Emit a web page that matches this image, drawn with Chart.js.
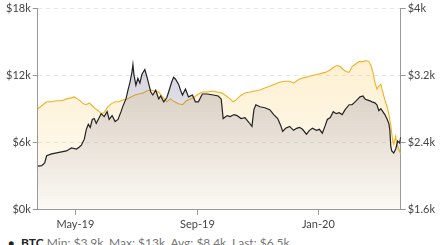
<!DOCTYPE html>
<html>
<head>
<meta charset="utf-8">
<script src="https://cdn.jsdelivr.net/npm/chart.js@4"></script>
<style>
    html, body { margin: 0; padding: 0; background: #fff; overflow: hidden; }
    #wrap { position: relative; width: 443px; height: 234px; }
    #legend {
        position: absolute; top: 235px; left: 8px; white-space: nowrap;
        font: 12px Lato, sans-serif; color: #777;
    }
    #legend .dot { color: #222; font-size: 10px; margin-right: 7px; }
    #legend b { color: #222; }
</style>
</head>
<body>
<div id="wrap"><canvas id="chart"></canvas></div>
<div id="legend"><span class="dot">●</span><b>BTC</b> Min: $3.9k, Max: $13k, Avg: $8.4k, Last: $6.5k</div>
<script>
// x values are days since 2019-03-24
const xTickDays = [38, 161, 283];
const xTickLabels = ['May-19', 'Sep-19', 'Jan-20'];

const btcDays = [0, 4, 7, 9, 14, 19, 24, 29, 34, 39, 42, 44, 47, 49, 51, 53, 55, 57, 59, 61,
    64, 67, 70, 72, 75, 78, 81, 84, 86, 89, 91, 93, 95, 96, 97, 99, 101, 103, 105, 108,
    110, 112, 114, 116, 119, 122, 124, 127, 130, 132, 135, 137, 139, 142, 144, 146, 149, 152, 156, 159,
    162, 166, 171, 177, 182, 185, 187, 191, 194, 198, 201, 205, 209, 213, 216, 218, 220, 224, 229, 234,
    238, 242, 245, 247, 250, 254, 258, 261, 264, 267, 271, 274, 277, 281, 284, 287, 290, 292, 295, 298,
    301, 304, 307, 310, 314, 317, 320, 323, 325, 328, 330, 332, 335, 337, 340, 342, 344, 346, 348, 350,
    352, 354, 355, 356, 357, 359, 361, 363, 365, 366];
const btcValues = [3900, 3950, 4200, 4830, 5000, 5090, 5180, 5270, 5530, 5440, 5620, 5790, 6320, 7200, 7640, 7370, 8080, 8165, 7730, 8080,
    8600, 8340, 8780, 8080, 8430, 7900, 8080, 8780, 9300, 9920, 10700, 11400, 12300, 13000, 12100, 11150, 11760, 11330, 12100, 12550,
    11940, 11240, 10540, 10270, 10700, 9920, 10180, 9660, 10000, 10540, 11410, 11850, 11680, 11240, 10700, 10270, 10800, 10100, 10270, 9660,
    9660, 10360, 10360, 10270, 10180, 9920, 8165, 8430, 8340, 8520, 8430, 8165, 8250, 7810, 7460, 8960, 9400, 9220, 9130, 8960,
    8520, 8165, 7550, 7020, 7290, 7460, 7110, 7290, 7380, 7200, 6760, 7110, 7290, 7110, 7200, 6850, 7550, 8080, 8250, 8780,
    8600, 8690, 8520, 8960, 9400, 9400, 9660, 9920, 10100, 10180, 9920, 9830, 9750, 9660, 9570, 9400, 8870, 9040, 8780, 8520,
    8165, 7730, 7200, 5700, 5270, 5090, 5440, 6150, 5970, 6500];

const spxDays = [0, 4, 9, 14, 19, 24, 29, 34, 37, 40, 43, 46, 49, 52, 55, 58, 61, 64, 67, 70,
    74, 78, 82, 86, 90, 94, 98, 102, 106, 110, 114, 118, 122, 126, 130, 134, 138, 142, 146, 150,
    154, 158, 162, 166, 171, 176, 181, 186, 190, 194, 197, 200, 204, 209, 214, 219, 224, 229, 234, 239,
    244, 249, 254, 258, 262, 266, 270, 274, 278, 282, 286, 290, 294, 298, 302, 305, 308, 311, 314, 317,
    320, 324, 328, 331, 334, 336, 338, 340, 342, 344, 346, 348, 350, 352, 354, 355, 356, 357, 358, 359,
    361, 362, 364, 366];
const spxValues = [2806, 2841, 2888, 2888, 2900, 2900, 2923, 2935, 2946, 2923, 2900, 2864, 2853, 2876, 2841, 2806, 2782, 2747, 2759, 2818,
    2864, 2888, 2888, 2911, 2923, 2946, 2970, 2981, 2993, 3017, 3028, 3017, 3005, 2946, 2888, 2923, 2888, 2864, 2853, 2900,
    2923, 2946, 2981, 3005, 3005, 3017, 3005, 2993, 2958, 2923, 2888, 2911, 2958, 2993, 3005, 3017, 3028, 3052, 3075, 3098,
    3122, 3134, 3134, 3110, 3145, 3169, 3180, 3192, 3204, 3216, 3227, 3239, 3262, 3297, 3321, 3309, 3274, 3250, 3239, 3309,
    3333, 3368, 3368, 3380, 3368, 3321, 3239, 3122, 3040, 3075, 3098, 3005, 2911, 2841, 2747, 2677, 2607, 2513, 2420, 2385,
    2478, 2385, 2326, 2267];

const btcTicks = [0, 6000, 12000, 18000];
const spxTicks = [1600, 2400, 3200, 4000];

const toPoints = (days, values) => days.map((d, i) => ({ x: d, y: values[i] }));
const kLabel = v => '$' + (v / 1000) + 'k';

// vertical gradient over the chart area
function areaFill(stops) {
    return context => {
        const { ctx, chartArea } = context.chart;
        if (!chartArea) return null;
        const g = ctx.createLinearGradient(0, chartArea.top, 0, chartArea.bottom);
        g.addColorStop(0, stops[0]);
        g.addColorStop(1, stops[1]);
        return g;
    };
}

const tickFont = { family: 'Lato', size: 11 };

new Chart(document.getElementById('chart'), {
    type: 'line',
    data: {
        datasets: [{
            label: 'BTC',
            data: toPoints(btcDays, btcValues),
            yAxisID: 'y',
            borderColor: '#222',
            borderWidth: 1.2,
            backgroundColor: areaFill(['rgba(105,100,135,0.38)', 'rgba(105,100,135,0.02)']),
            fill: 'start',
            pointRadius: 0,
            tension: 0
        }, {
            label: 'SPX',
            data: toPoints(spxDays, spxValues),
            yAxisID: 'y1',
            borderColor: '#efb322',
            borderWidth: 1.1,
            backgroundColor: areaFill(['rgba(248,190,60,0.30)', 'rgba(248,190,60,0.04)']),
            fill: 'start',
            pointRadius: 0,
            tension: 0
        }]
    },
    options: {
        responsive: true,
        maintainAspectRatio: false,
        animation: false,
        layout: { padding: { left: 4, right: 6, top: 0, bottom: 0 } },
        plugins: { legend: { display: false }, tooltip: { enabled: false } },
        scales: {
            x: {
                type: 'linear',
                min: 0,
                max: 366,
                afterBuildTicks: axis => { axis.ticks = xTickDays.map(v => ({ value: v })); },
                ticks: {
                    font: tickFont, color: '#444', padding: 3, maxRotation: 0,
                    callback: v => xTickLabels[xTickDays.indexOf(v)]
                },
                grid: { drawOnChartArea: false, tickLength: 5, color: '#999' },
                border: { color: '#999' }
            },
            y: {
                position: 'left',
                min: 0,
                max: 18000,
                afterBuildTicks: axis => { axis.ticks = btcTicks.map(v => ({ value: v })); },
                ticks: { font: tickFont, color: '#444', padding: 2, callback: kLabel },
                grid: { color: '#e6e6e6', tickLength: 5, tickColor: '#999' },
                border: { color: '#999', dash: [4, 4] }
            },
            y1: {
                position: 'right',
                min: 1600,
                max: 4000,
                afterBuildTicks: axis => { axis.ticks = spxTicks.map(v => ({ value: v })); },
                ticks: { font: tickFont, color: '#444', padding: 2, callback: kLabel },
                grid: { drawOnChartArea: false, tickLength: 5, tickColor: '#999' },
                border: { color: '#999' }
            }
        }
    }
});
</script>
</body>
</html>
